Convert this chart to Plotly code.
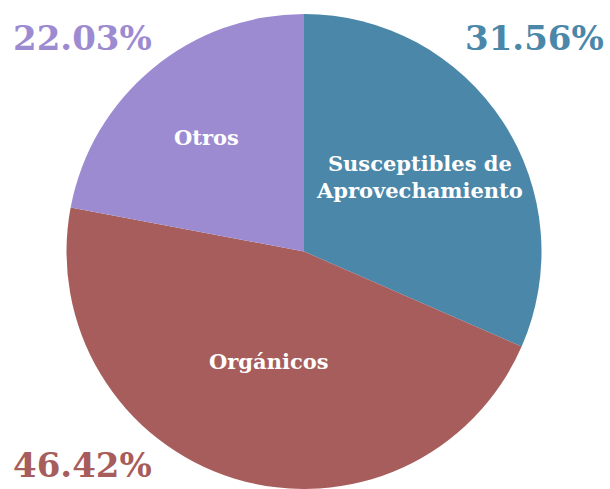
import plotly.graph_objects as go

categories = ["Susceptibles de<br>Aprovechamiento", "Orgánicos", "Otros"]
values = [31.56, 46.42, 22.03]
pct_labels = ["31.56%", "46.42%", "22.03%"]
colors = ["#4A87A9", "#A65D5B", "#9D8BD2"]

FONT = "DejaVu Serif"
W, H = 610, 489
ML, MR, MT, MB = 0, 2, 14, 0
PW, PH = W - ML - MR, H - MT - MB


def px(x):
    return (x - ML) / PW


def py(y):
    return 1 - (y - MT) / PH


fig = go.Figure(go.Pie(
    labels=categories,
    values=values,
    sort=False,
    direction="clockwise",
    rotation=0,
    marker=dict(colors=colors, line=dict(width=0)),
    textinfo="none",
    hoverinfo="label+percent",
    showlegend=False,
    domain=dict(x=[0, 1], y=[0, 1]),
))

# inside labels
label_pos = [(419, 177), (269, 361), (206, 137)]
for (x, y), txt in zip(label_pos, categories):
    fig.add_annotation(x=px(x), y=py(y), xref="paper", yref="paper",
                       text="<b>" + txt + "</b>", showarrow=False,
                       font=dict(family=FONT, size=21, color="white"),
                       align="center", xanchor="center", yanchor="middle")

# percentage labels in corners
pct_pos = [(606, 38, "right"), (11, 465, "left"), (11, 38, "left")]
for (x, y, anc), txt, c in zip(pct_pos, pct_labels, colors):
    fig.add_annotation(x=px(x), y=py(y), xref="paper", yref="paper",
                       text="<b>" + txt + "</b>", showarrow=False,
                       font=dict(family=FONT, size=34, color=c),
                       xanchor=anc, yanchor="middle")

fig.update_layout(
    width=W, height=H,
    margin=dict(l=ML, r=MR, t=MT, b=MB),
    paper_bgcolor="white",
    plot_bgcolor="white",
)

fig.write_html("out.html", config={"displayModeBar": False},
               post_script="document.body.style.margin='0';document.body.style.overflow='hidden';")
